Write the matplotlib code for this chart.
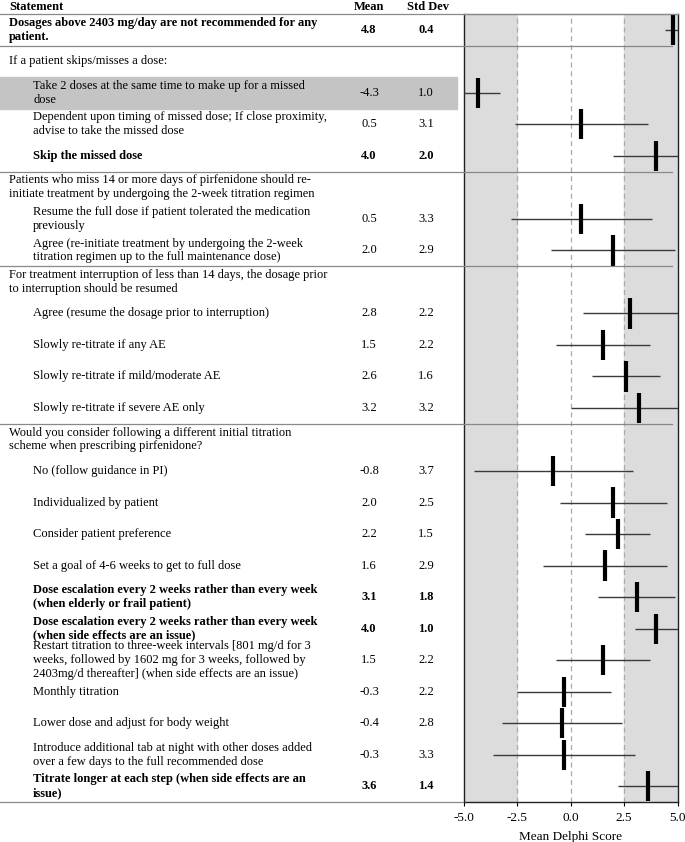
import matplotlib
matplotlib.use("Agg")
import matplotlib.pyplot as plt
from matplotlib import transforms

statements = [
    "Dosages above 2403 mg/day are not recommended for any\npatient.",
    "If a patient skips/misses a dose:",
    "Take 2 doses at the same time to make up for a missed\ndose",
    "Dependent upon timing of missed dose; If close proximity,\nadvise to take the missed dose",
    "Skip the missed dose",
    "Patients who miss 14 or more days of pirfenidone should re-\ninitiate treatment by undergoing the 2-week titration regimen",
    "Resume the full dose if patient tolerated the medication\npreviously",
    "Agree (re-initiate treatment by undergoing the 2-week\ntitration regimen up to the full maintenance dose)",
    "For treatment interruption of less than 14 days, the dosage prior\nto interruption should be resumed",
    "Agree (resume the dosage prior to interruption)",
    "Slowly re-titrate if any AE",
    "Slowly re-titrate if mild/moderate AE",
    "Slowly re-titrate if severe AE only",
    "Would you consider following a different initial titration\nscheme when prescribing pirfenidone?",
    "No (follow guidance in PI)",
    "Individualized by patient",
    "Consider patient preference",
    "Set a goal of 4-6 weeks to get to full dose",
    "Dose escalation every 2 weeks rather than every week\n(when elderly or frail patient)",
    "Dose escalation every 2 weeks rather than every week\n(when side effects are an issue)",
    "Restart titration to three-week intervals [801 mg/d for 3\nweeks, followed by 1602 mg for 3 weeks, followed by\n2403mg/d thereafter] (when side effects are an issue)",
    "Monthly titration",
    "Lower dose and adjust for body weight",
    "Introduce additional tab at night with other doses added\nover a few days to the full recommended dose",
    "Titrate longer at each step (when side effects are an\nissue)",
]
means = [4.8, None, -4.3, 0.5, 4.0, None, 0.5, 2.0, None, 2.8, 1.5, 2.6, 3.2,
         None, -0.8, 2.0, 2.2, 1.6, 3.1, 4.0, 1.5, -0.3, -0.4, -0.3, 3.6]
sds = [0.4, None, 1.0, 3.1, 2.0, None, 3.3, 2.9, None, 2.2, 2.2, 1.6, 3.2,
       None, 3.7, 2.5, 1.5, 2.9, 1.8, 1.0, 2.2, 2.2, 2.8, 3.3, 1.4]
bold_rows = [0, 4, 18, 19, 24]
highlight_rows = [2]
section_breaks = [1, 5, 8, 13]   # a line is drawn above these rows

W, H = 685, 842
FONT = "Liberation Serif"
FS = 9

fig = plt.figure(figsize=(W / 100, H / 100), dpi=100)
ax = fig.add_axes([463.5 / W, 40 / H, 214 / W, 788 / H])

n = len(statements)
ax.set_xlim(-5, 5)
ax.set_ylim(n, 0)

ax.axvspan(-5, -2.5, color="#dcdcdc", zorder=0)
ax.axvspan(2.5, 5, color="#dcdcdc", zorder=0)
for x in [-2.5, 0, 2.5]:
    ax.axvline(x, color="#aaaaaa", lw=0.9, ls=(0, (4, 3)), zorder=1)

# x in figure fraction, y in data rows
tr = transforms.blended_transform_factory(fig.transFigure, ax.transData)

def px(x):
    return x / W

for i, (s, m, sd) in enumerate(zip(statements, means, sds)):
    y = i + 0.5
    weight = "bold" if i in bold_rows else "normal"
    xs = 9 if (m is None or i == 0) else 33
    if i in highlight_rows:
        fig.patches.append(plt.Rectangle((0, i), px(457), 1, transform=tr,
                                         color="#c4c4c4", zorder=0))
    fig.text(px(xs), y, s, transform=tr, ha="left", va="center",
             fontsize=FS, family=FONT, weight=weight, linespacing=1.2)
    if m is None:
        continue
    fig.text(px(369), y, f"{m:.1f}", transform=tr, ha="center", va="center",
             fontsize=FS, family=FONT, weight=weight)
    fig.text(px(426), y, f"{sd:.1f}", transform=tr, ha="center", va="center",
             fontsize=FS, family=FONT, weight=weight)
    ax.hlines(y, m - sd, m + sd, color="#3a3a3a", lw=1, zorder=3)
    ax.vlines(m, y - 0.48, y + 0.48, color="black", lw=3, zorder=4)

for r in section_breaks:
    fig.lines.append(plt.Line2D([0, px(672)], [r, r], transform=tr,
                                color="#888888", lw=0.9))
fig.lines.append(plt.Line2D([0, px(677)], [0, 0], transform=tr,
                            color="#888888", lw=0.9))
fig.lines.append(plt.Line2D([0, px(463)], [n, n], transform=tr,
                            color="#888888", lw=0.9))

# column headers
hy = 1 - 7 / H
fig.text(px(9), hy, "Statement", ha="left", va="center", fontsize=FS,
         family=FONT, weight="bold")
fig.text(px(369), hy, "Mean", ha="center", va="center", fontsize=FS,
         family=FONT, weight="bold")
fig.text(px(428), hy, "Std Dev", ha="center", va="center", fontsize=FS,
         family=FONT, weight="bold")

ax.set_yticks([])
ax.set_xticks([-5, -2.5, 0, 2.5, 5])
ax.set_xticklabels(["-5.0", "-2.5", "0.0", "2.5", "5.0"], family=FONT,
                   fontsize=9.5)
ax.tick_params(axis="x", length=3, width=0.8, pad=4)
ax.set_xlabel("Mean Delphi Score", family=FONT, fontsize=9.5, labelpad=5)
for side in ["left", "right", "bottom"]:
    ax.spines[side].set_color("#222222")
    ax.spines[side].set_linewidth(1)
ax.spines["top"].set_color("#888888")
ax.spines["top"].set_linewidth(0.9)

fig.savefig("out.png", dpi=100)
